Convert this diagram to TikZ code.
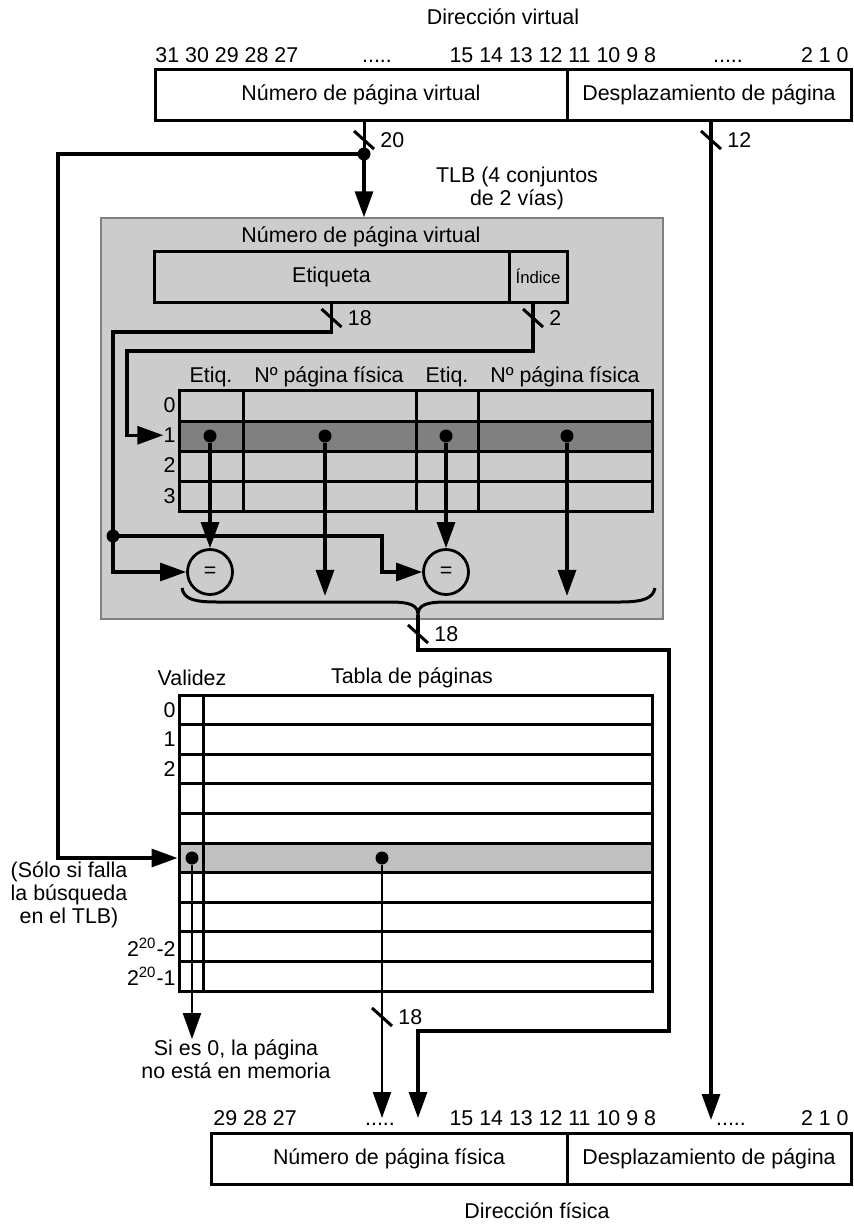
\documentclass[tikz,border=0pt]{standalone}
\usepackage{fontspec}
\setmainfont{Liberation Sans}
\usetikzlibrary{arrows.meta, calc}
\definecolor{TlbGray}{HTML}{CCCCCC}
\definecolor{RowDark}{HTML}{808080}
\definecolor{RowLight}{HTML}{C0C0C0}
\tikzset{
    txt/.style={font=\fontsize{10.7}{11.5}\selectfont, inner sep=0pt},
    field/.style={rectangle, draw, line width=1.5pt, inner sep=0pt, font=\fontsize{10.7}{12}\selectfont},
    small/.style={font=\fontsize{8.4}{10}\selectfont},
    bus/.style={line width=1.5pt},
    arrow/.style={-{Triangle[length=13pt, width=9pt]}, line width=1.6pt},
    thinarrow/.style={-{Triangle[length=13pt, width=9pt]}, line width=1.1pt},
    dot/.style={circle, fill, inner sep=0pt, minimum size=6.5pt},
    cmp/.style={circle, draw, line width=1.4pt, minimum size=22.5pt, inner sep=0pt, font=\fontsize{10.7}{12}\selectfont},
}

\begin{document}
\begin{tikzpicture}[x=0.5pt, y=-0.5pt]
    \useasboundingbox (0,0) rectangle (853,1227);

    % Direccion virtual
    \node[txt] (dvirt) at (503,17) {Dirección virtual};
    \node[txt, anchor=base west] (vb31) at (155,62) {31 30 29 28 27};
    \node[txt, anchor=base] (vbd1) at (377,62) {.....};
    \node[txt, anchor=base east] (vb15) at (563,62) {15 14 13 12};
    \node[txt, anchor=base west] (vb11) at (568,62) {11 10 9 8};
    \node[txt, anchor=base] (vbd2) at (728,62) {.....};
    \node[txt, anchor=base east] (vb2) at (849,62) {2 1 0};
    \node[field, minimum width=206pt, minimum height=25.5pt] (vvpn) at (361,94.5) {Número de página virtual};
    \node[field, minimum width=142pt, minimum height=25.5pt] (voff) at (709,94.5) {Desplazamiento de página};

    % TLB
    \node[txt, align=center] (tlbl) at (517,188) {TLB (4 conjuntos\\de 2 vías)};
    \node[rectangle, draw=gray, fill=TlbGray, line width=0.7pt, inner sep=0pt,
          minimum width=281pt, minimum height=200.5pt] (tlb) at (382,418.5) {};
    \node[txt] (tvpn) at (361,237) {Número de página virtual};
    \node[field, minimum width=177.5pt, minimum height=25.5pt] (etq) at (331.5,276.5) {Etiqueta};
    \node[field, small, minimum width=29pt, minimum height=25.5pt] (idx) at (538,276.5) {Índice};

    \node[txt] (th1) at (211,377) {Etiq.};
    \node[txt] (th2) at (329,377) {Nº página física};
    \node[txt] (th3) at (447,377) {Etiq.};
    \node[txt] (th4) at (565,377) {Nº página física};
    \fill[RowDark] (179,421) rectangle (652,451);
    \node[field, minimum width=236.5pt, minimum height=60.5pt] (tt) at (415.5,450.5) {};
    \foreach \y in {421,451,481}
        \draw[bus] (179,\y) -- (652,\y);
    \foreach \x in {243,416,478}
        \draw[bus] (\x,390) -- (\x,511);
    \foreach \i in {0,...,3}
        \node[txt, anchor=east] (tr\i) at (176,405+30.25*\i) {\i};

    \node[dot] (d1) at (210,436) {};
    \node[dot] (d2) at (325,436) {};
    \node[dot] (d3) at (446,436) {};
    \node[dot] (d4) at (567,436) {};
    \node[cmp] (eq1) at (210,572) {=};
    \node[cmp] (eq2) at (446,572) {=};
    \draw[arrow] (d1) -- (eq1);
    \draw[arrow] (d3) -- (eq2);
    \draw[arrow] (d2) -- (d2 |- eq1.south);
    \draw[arrow] (d4) -- (d4 |- eq2.south);

    % etiqueta e indice
    \coordinate (tagturn) at (331.5,332);
    \coordinate (tagbus) at (113,536);
    \coordinate (eq2turn) at (382,572);
    \draw[arrow] (etq.south) -- (tagturn) -| (tagbus) |- (eq1.west);
    \draw[arrow] (tagbus) -| (eq2turn) -- (eq2.west);
    \node[dot] (dtag) at (tagbus) {};
    \coordinate (idxturn) at (127,351);
    \draw[arrow] ([xshift=-2.5pt]idx.south) |- (idxturn) |- (tr1.west);

    % llave
    \coordinate (brtip) at (418,615);
    \draw[bus] (182,588) .. controls (184,600) and (196,602) .. (218,602) -- (390,602)
        .. controls (410,602) and (418,605) .. (brtip)
        .. controls (418,605) and (426,602) .. (446,602) -- (620,602)
        .. controls (644,602) and (653,598) .. (655,588);

    % Tabla de paginas
    \node[txt] (val) at (192,678) {Validez};
    \node[txt] (tpag) at (412,678) {Tabla de páginas};
    \fill[RowLight] (179,843) rectangle (652,872.6);
    \node[field, minimum width=236.5pt, minimum height=148pt] (pt) at (415.5,843) {};
    \foreach \i in {1,...,9}
        \draw[bus] (179,695+29.6*\i) -- (652,695+29.6*\i);
    \draw[bus] (203,695) -- (203,991);
    \foreach \i in {0,1,2}
        \node[txt, anchor=east] (pr\i) at (176,709.8+29.6*\i) {\i};
    \node[txt, anchor=east] (pr8) at (176,947) {2\textsuperscript{20}-2};
    \node[txt, anchor=east] (pr9) at (176,976) {2\textsuperscript{20}-1};
    \node[txt, align=center] (miss) at (69,895) {(Sólo si falla\\la búsqueda\\en el TLB)};

    \node[dot] (vd) at (192,858) {};
    \node[dot] (pd) at (382,858) {};
    \node[txt, align=center] (nomem) at (236,1059) {Si es 0, la página\\no está en memoria};

    % Direccion fisica
    \node[txt, anchor=base west] (pb29) at (213,1125) {29 28 27};
    \node[txt, anchor=base] (pbd1) at (380,1125) {.....};
    \node[txt, anchor=base east] (pb15) at (563,1125) {15 14 13 12};
    \node[txt, anchor=base west] (pb11) at (568,1125) {11 10 9 8};
    \node[txt, anchor=base] (pbd2) at (731,1125) {.....};
    \node[txt, anchor=base east] (pb2) at (849,1125) {2 1 0};
    \node[field, minimum width=178pt, minimum height=25.5pt] (pvpn) at (389,1158.5) {Número de página física};
    \node[field, minimum width=142pt, minimum height=25.5pt] (poff) at (709,1158.5) {Desplazamiento de página};
    \node[txt] (dfis) at (537,1211) {Dirección física};

    % buses
    \coordinate (j20) at (364,154);
    \coordinate (missturn) at (58,858);
    \coordinate (offend) at (711,1120);
    \coordinate (pnturn) at (669,650);
    \coordinate (pnturn2) at (418,1031);
    \coordinate (pnend) at (418,1118);
    \draw[bus] (j20 |- vvpn.south) -- (j20);
    \draw[arrow] (j20) -- (j20 |- tlb.north);
    \draw[arrow] (j20) -| (missturn) -- (missturn -| pt.west);
    \node[dot] (dj20) at (j20) {};
    \draw[arrow] (offend |- voff.south) -- (offend);
    \draw[arrow] (brtip) |- (pnturn) |- (pnturn2) -- (pnend);
    \draw[thinarrow] (vd) -- (vd |- nomem.north);
    \draw[thinarrow] (pd) -- (pd |- pnend);

    % anchos de bus
    \foreach \x/\y/\w [count=\i] in {364/140/20, 711/140/12, 331.5/318/18, 533/318/2, 418/634/18, 382/1017/18} {
        \draw[bus] (\x-10,\y-9) -- (\x+10,\y+9);
        \node[txt, anchor=west] (bw\i) at (\x+16,\y) {\w};
    }
\end{tikzpicture}
\end{document}
